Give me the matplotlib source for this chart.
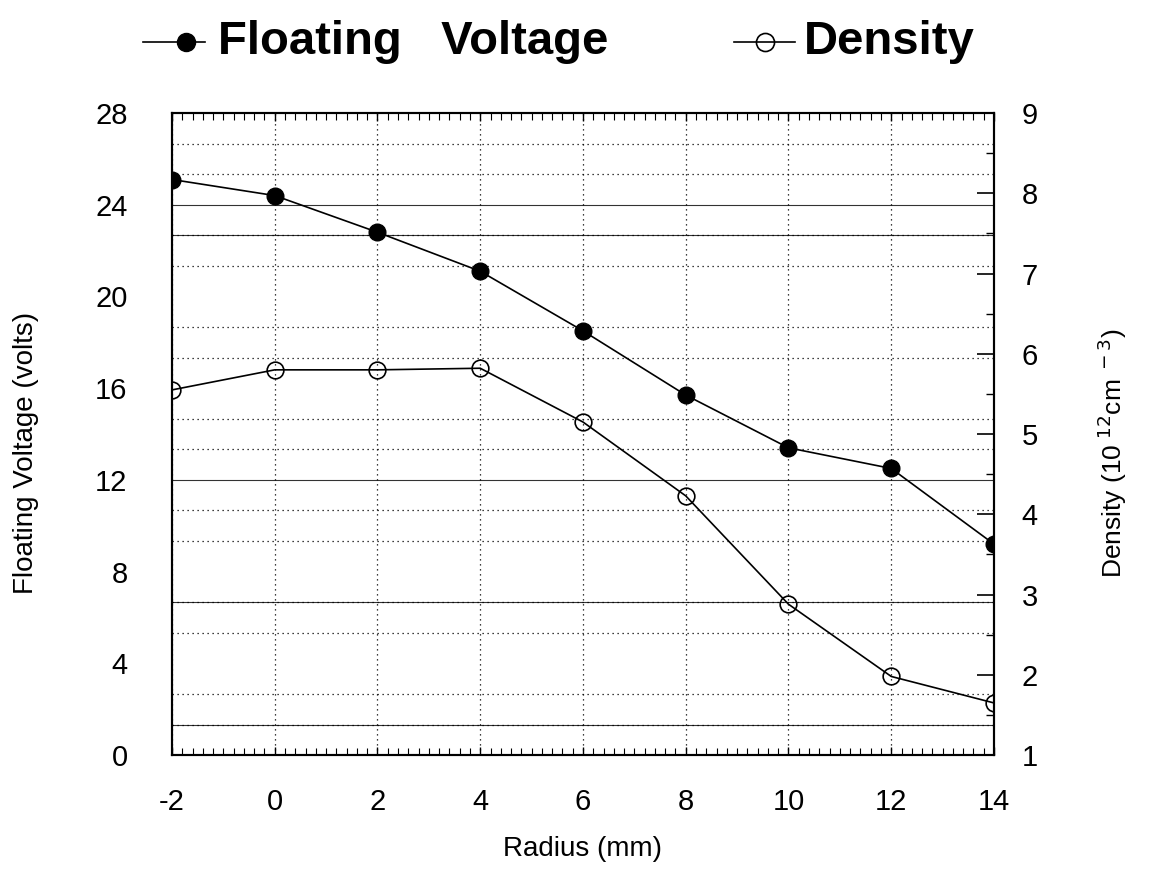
import numpy as np
import matplotlib
matplotlib.use('Agg')
import matplotlib.pyplot as plt
from matplotlib.lines import Line2D
from matplotlib.ticker import MultipleLocator, FixedLocator

plt.rcParams['font.family'] = ['Liberation Sans', 'DejaVu Sans']
plt.rcParams['axes.unicode_minus'] = False

radius = [-2, 0, 2, 4, 6, 8, 10, 12, 14]
floating_voltage = [25.1, 24.4, 22.8, 21.1, 18.5, 15.7, 13.4, 12.5, 9.2]
density = [5.55, 5.8, 5.8, 5.82, 5.15, 4.23, 2.88, 1.98, 1.65]

x_ticks = [-2, 0, 2, 4, 6, 8, 10, 12, 14]
v_ticks = [0, 4, 8, 12, 16, 20, 24, 28]
d_ticks = [1, 2, 3, 4, 5, 6, 7, 8, 9]

fig = plt.figure(figsize=(11.51, 8.76), dpi=100)
ax = fig.add_axes([0.1494, 0.138, 0.7142, 0.733])

ax.plot(radius, floating_voltage, color='black', lw=1.2, marker='o',
        markersize=12, markerfacecolor='black', zorder=5)
ax.set_xlim(-2, 14)
ax.set_ylim(0, 28)
ax.set_xticks(x_ticks)
ax.set_yticks(v_ticks)
ax.xaxis.set_minor_locator(MultipleLocator(0.2))
ax.yaxis.set_minor_locator(FixedLocator(np.linspace(0, 28, 22)))
ax.tick_params(axis='x', which='both', direction='in', top=True,
               labelsize=21, pad=24)
ax.tick_params(axis='x', which='major', length=6, width=1)
ax.tick_params(axis='x', which='minor', length=5, width=0.8)
ax.tick_params(axis='y', which='both', length=0, labelsize=21, pad=32)
ax.grid(True, which='major', axis='x', linestyle=(0, (1, 3)), color='black', lw=0.9)
ax.grid(True, which='minor', axis='y', linestyle=(0, (1, 3)), color='black', lw=0.9)
# scanned-in solid rules on some of the grid rows
for k in [1, 5, 9, 17, 18]:
    ax.axhline(k * 28 / 21, color='black', lw=0.8, alpha=0.8, zorder=1)
for s in ax.spines.values():
    s.set_linewidth(1.5)
ax.set_xlabel('Radius (mm)', fontsize=20)
ax.xaxis.set_label_coords(0.5, -0.126)
ax.set_ylabel('Floating Voltage (volts)', fontsize=20)
ax.yaxis.set_label_coords(-0.162, 0.47)

ax2 = ax.twinx()
ax2.plot(radius, density, color='black', lw=1.2, marker='o',
         markersize=12, markerfacecolor='none', markeredgewidth=1.2, zorder=5)
ax2.set_ylim(1, 9)
ax2.set_yticks(d_ticks)
ax2.yaxis.set_minor_locator(MultipleLocator(0.5))
ax2.tick_params(axis='y', which='major', direction='in', length=12, width=1.2,
                labelsize=21, pad=20)
ax2.tick_params(axis='y', which='minor', direction='in', length=6, width=1)
ax2.set_ylabel('Density (10$^{\\ 12}$cm$^{\\ -3}$)', fontsize=19)
ax2.yaxis.set_label_coords(1.124, 0.47)
for s in ax2.spines.values():
    s.set_linewidth(1.5)

# legend drawn across the top, as in the original
leg_y = 0.952
fig.add_artist(Line2D([0.124, 0.178], [leg_y, leg_y], color='black', lw=1.2))
fig.add_artist(Line2D([0.162], [leg_y], color='black', marker='o', markersize=13,
                      markerfacecolor='black'))
fig.text(0.189, leg_y, 'Floating   Voltage',
         fontsize=34, fontweight='bold', va='center')
fig.add_artist(Line2D([0.638, 0.691], [leg_y, leg_y], color='black', lw=1.2))
fig.add_artist(Line2D([0.665], [leg_y], color='black', marker='o', markersize=13,
                      markerfacecolor='none', markeredgewidth=1.2))
fig.text(0.698, leg_y, 'Density',
         fontsize=34, fontweight='bold', va='center')

fig.savefig('out.png', dpi=100)
